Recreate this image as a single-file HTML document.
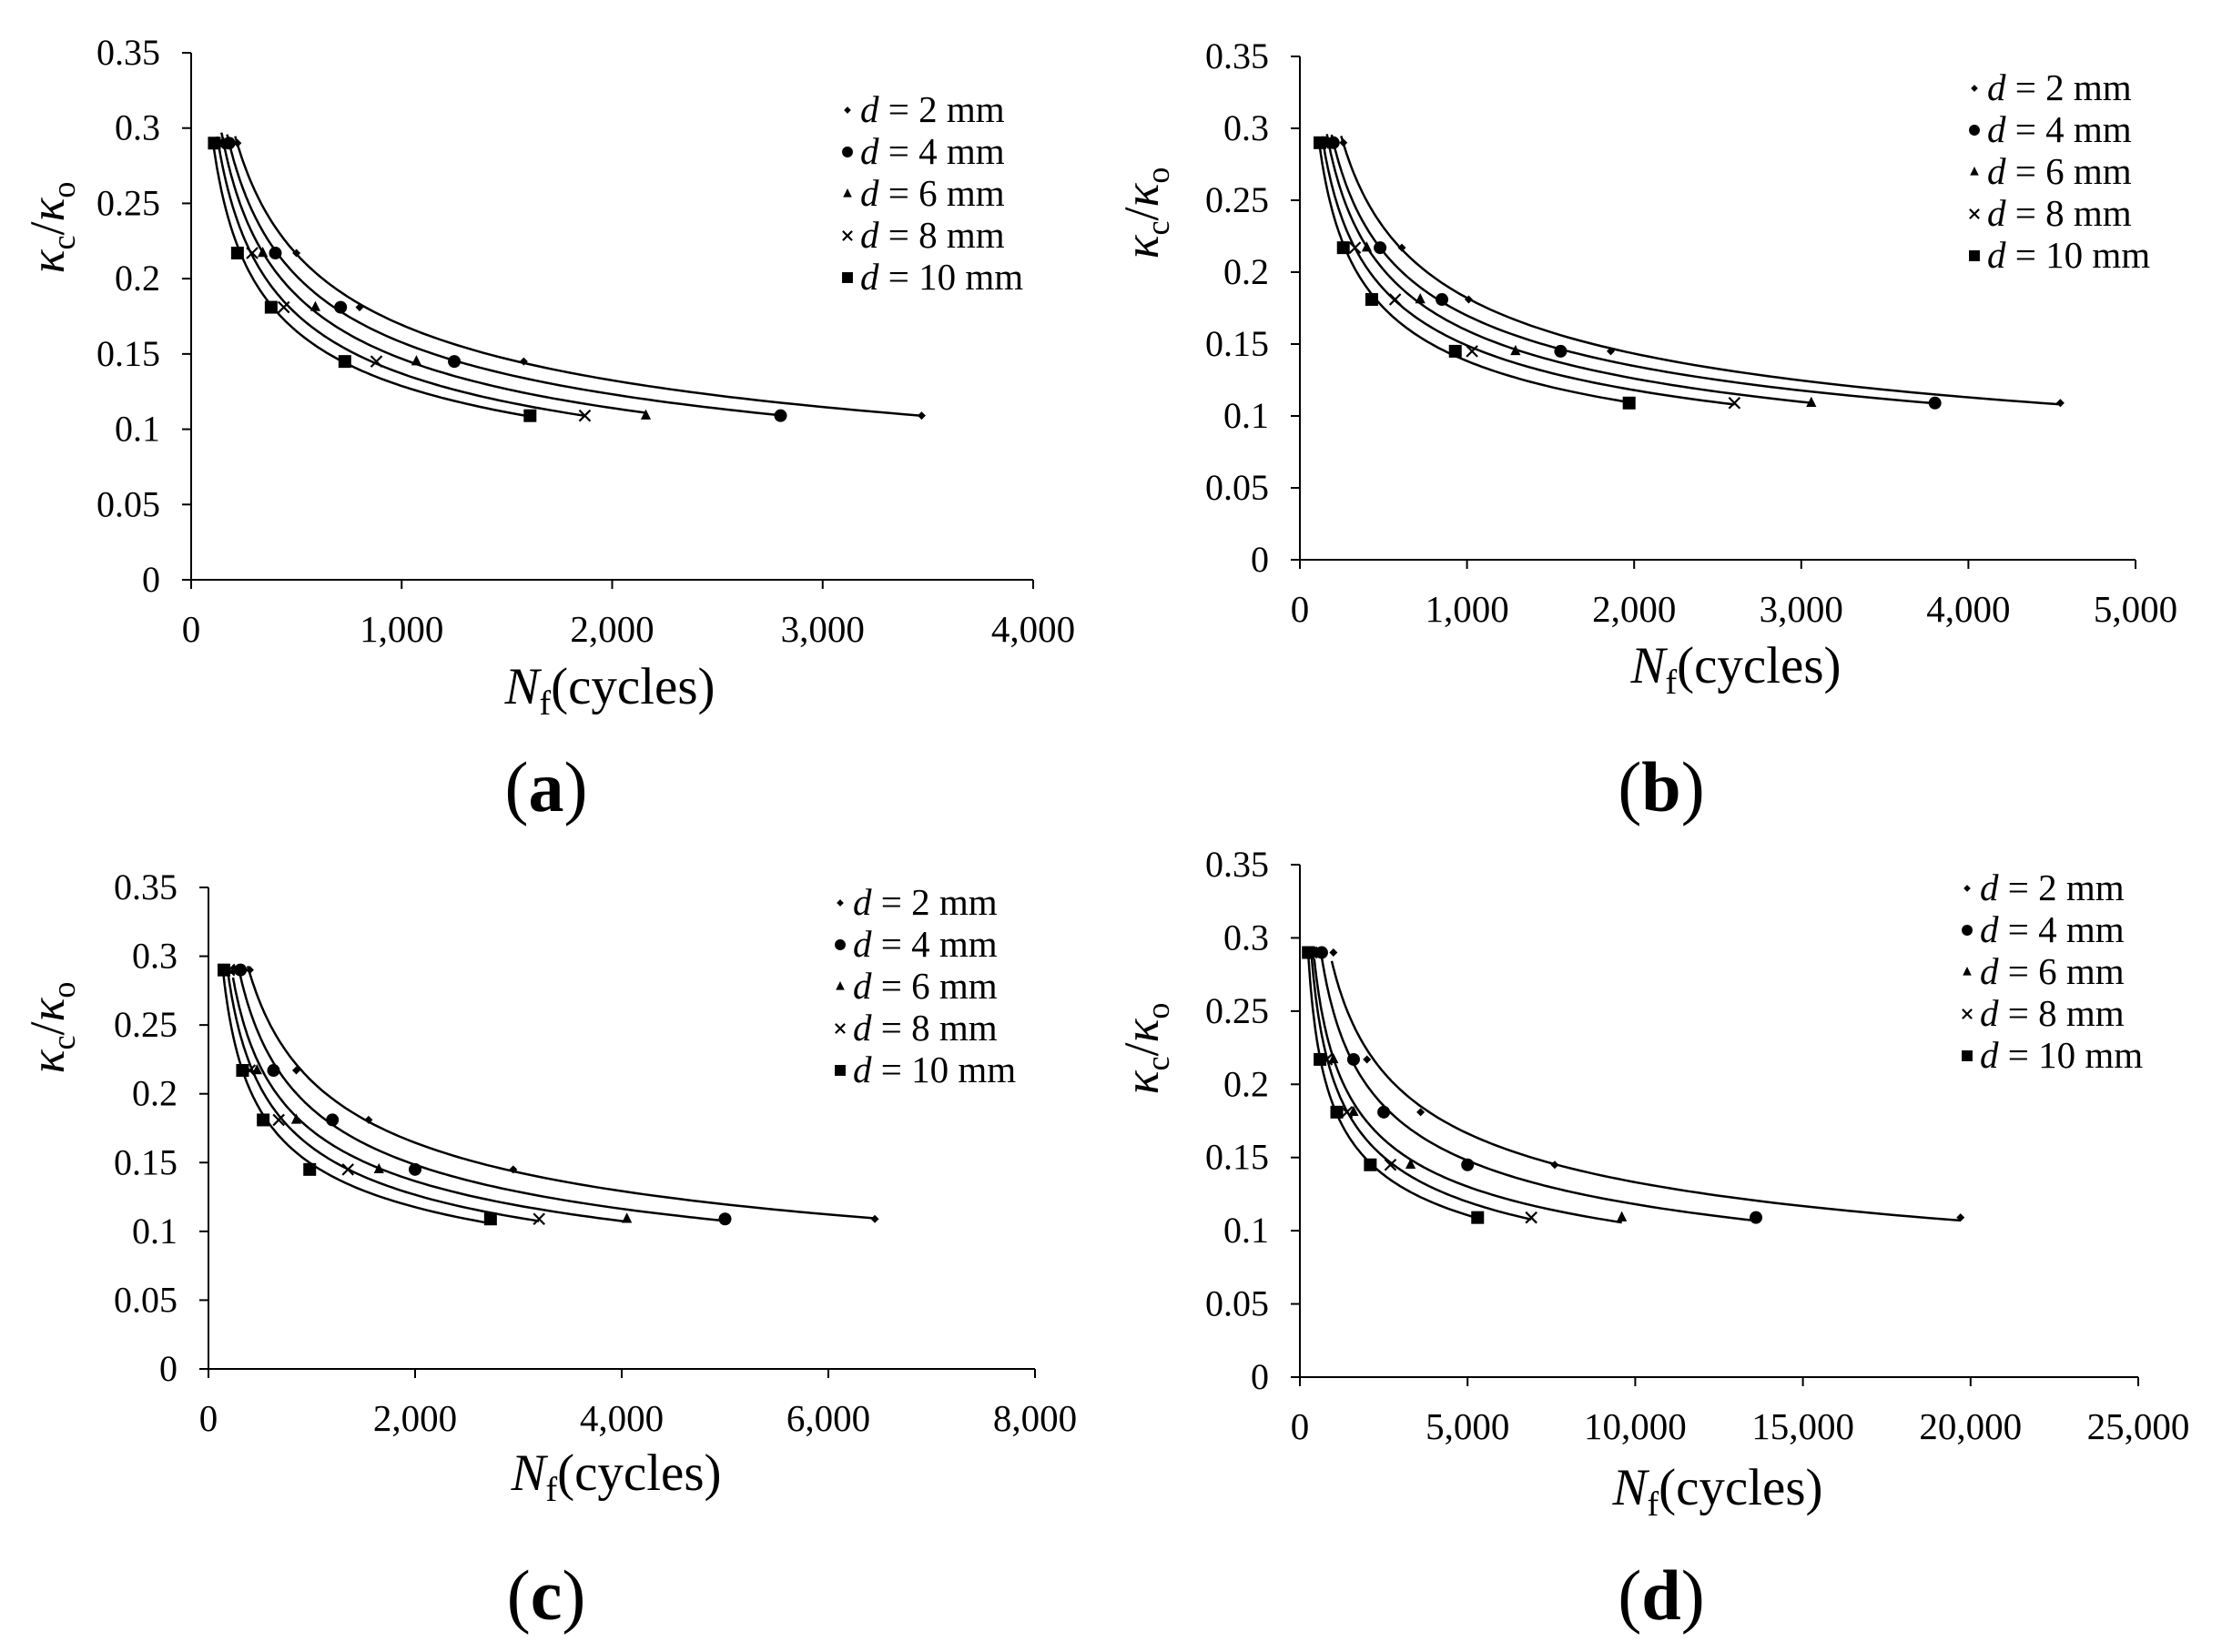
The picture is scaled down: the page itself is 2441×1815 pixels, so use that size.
<!DOCTYPE html>
<html><head><meta charset="utf-8"><style>
body{margin:0;background:#fff;}
svg{display:block;font-family:"Liberation Serif",serif;}
</style></head><body>
<svg id="fig" width="2441" height="1815" viewBox="0 0 2441 1815"></svg>
<script>
const seriesLabels = ["2 mm","4 mm","6 mm","8 mm","10 mm"];
const yLevels = [0.29, 0.217, 0.181, 0.145, 0.109];
const yTicks = [0,0.05,0.1,0.15,0.2,0.25,0.3,0.35];
const yTickLabels = ["0","0.05","0.1","0.15","0.2","0.25","0.3","0.35"];
const xTicksA = [0,1000,2000,3000,4000];
const xTicksB = [0,1000,2000,3000,4000,5000];
const xTicksC = [0,2000,4000,6000,8000];
const xTicksD = [0,5000,10000,15000,20000,25000];
const nfA = [[220,500,800,1580,3470],[180,400,710,1250,2800],[150,340,590,1070,2160],[130,290,440,880,1870],[110,220,380,730,1610]];
const nfB = [[260,610,1010,1860,4550],[200,480,850,1560,3800],[170,400,720,1290,3060],[140,330,570,1030,2600],[120,260,430,930,1970]];
const nfC = [[400,850,1550,2950,6450],[310,630,1200,2000,5000],[250,470,850,1650,4050],[200,400,680,1350,3200],[150,330,530,980,2730]];
const nfD = [[1000,2000,3600,7600,19700],[650,1600,2500,5000,13600],[450,1000,1600,3300,9600],[350,800,1400,2700,6900],[250,600,1100,2100,5300]];

const NS="http://www.w3.org/2000/svg";
const svg=document.getElementById('fig');
function mk(tag,attrs,parent){const e=document.createElementNS(NS,tag);for(const k in attrs)e.setAttribute(k,attrs[k]);(parent||svg).appendChild(e);return e;}

const panels=[
 {id:'a',x0:210,x1:1135,y0:637,y1:58,xt:xTicksA,data:nfA,leg:[931,121],ylab:[58,250],xlab:[670,755],pl:[600,864]},
 {id:'b',x0:1428,x1:2346,y0:615,y1:62,xt:xTicksB,data:nfB,leg:[2169,97],ylab:[1260,234],xlab:[1907,732],pl:[1825,864]},
 {id:'c',x0:229,x1:1137,y0:1504,y1:975,xt:xTicksC,data:nfC,leg:[923,992],ylab:[58,1129],xlab:[677,1619],pl:[600,1752]},
 {id:'d',x0:1428,x1:2349,y0:1513,y1:950,xt:xTicksD,data:nfD,leg:[2161,976],ylab:[1260,1152],xlab:[1887,1635],pl:[1825,1752]}
];
function marker(g,k,x,y,s){
  s=s||1;
  if(k===0){const r=4.5*s;mk('path',{d:`M${x} ${y-r}L${x+r} ${y}L${x} ${y+r}L${x-r} ${y}Z`,fill:'#000'},g);}
  else if(k===1){mk('circle',{cx:x,cy:y,r:7*s,fill:'#000'},g);}
  else if(k===2){const r=7*s;mk('path',{d:`M${x} ${y-r}L${x+r*0.8} ${y+r*0.6}L${x-r*0.8} ${y+r*0.6}Z`,fill:'#000'},g);}
  else if(k===3){const r=6*s;mk('path',{d:`M${x-r} ${y-r}L${x+r} ${y+r}M${x+r} ${y-r}L${x-r} ${y+r}`,stroke:'#000','stroke-width':2.2,fill:'none'},g);}
  else {const r=7*s;mk('rect',{x:x-r,y:y-r,width:2*r,height:2*r,fill:'#000'},g);}
}
function fmt(v){return v.toLocaleString('en-US');}
panels.forEach(p=>{
  const g=mk('g',{});
  
  
  const xmax=p.xt[p.xt.length-1];
  const sx=v=>p.x0+(v/xmax)*(p.x1-p.x0);
  const sy=v=>p.y0-(v/0.35)*(p.y0-p.y1);
  const ax=mk('path',{d:`M${p.x0} ${p.y1}L${p.x0} ${p.y0}L${p.x1} ${p.y0}`,stroke:'#000','stroke-width':2,fill:'none'},g);
  
  yTicks.forEach((t,i)=>{
    mk('line',{x1:p.x0-10,x2:p.x0,y1:sy(t),y2:sy(t),stroke:'#000','stroke-width':2},g);
    const tx=mk('text',{x:p.x0-34,y:sy(t)+13,'text-anchor':'end','font-size':40},g);
    tx.textContent=yTickLabels[i];
    
  });
  p.xt.forEach(t=>{
    mk('line',{x1:sx(t),x2:sx(t),y1:p.y0,y2:p.y0+10,stroke:'#000','stroke-width':2},g);
    const tx=mk('text',{x:sx(t),y:p.y0+68,'text-anchor':'middle','font-size':41},g);
    tx.textContent=fmt(t);
    
  });
  p.data.forEach((xs,k)=>{
    let n=xs.length,sl=0,sly=0,sll=0,slly=0;
    xs.forEach((x,i)=>{const lx=Math.log(x),ly=Math.log(yLevels[i]);sl+=lx;sly+=ly;sll+=lx*lx;slly+=lx*ly;});
    const b=(n*slly-sl*sly)/(n*sll-sl*sl),a=Math.exp((sly-b*sl)/n);
    const xa=xs[0]*0.95,xb=xs[n-1];let d='';
    for(let i=0;i<=120;i++){const x=xa*Math.pow(xb/xa,i/120);const y=Math.min(a*Math.pow(x,b),0.297);d+=(i?'L':'M')+sx(x).toFixed(1)+' '+sy(y).toFixed(1);}
    const c=mk('path',{d:d,stroke:'#000','stroke-width':2.5,fill:'none'},g);
    
    
    xs.forEach((x,i)=>marker(g,k,sx(x),sy(yLevels[i])));
  });
  seriesLabels.forEach((s,k)=>{
    const ly=p.leg[1]+k*46;
    marker(g,k,p.leg[0],ly,0.85);
    const t=mk('text',{x:p.leg[0]+14,y:ly+13,'font-size':41},g);
    t.innerHTML='<tspan font-style="italic">d</tspan> = '+s;
    
  });
  const yl=mk('text',{x:p.ylab[0],y:p.ylab[1]+12,'text-anchor':'middle','font-size':54,transform:`rotate(-90 ${p.ylab[0]} ${p.ylab[1]})`},g);
  yl.innerHTML='<tspan font-style="italic">κ</tspan><tspan font-size="36" dy="12">c</tspan><tspan dy="-12">/</tspan><tspan font-style="italic">κ</tspan><tspan font-size="36" dy="12">o</tspan>';
  
  const xl=mk('text',{x:p.xlab[0],y:p.xlab[1]+18,'text-anchor':'middle','font-size':57},g);
  xl.innerHTML='<tspan font-style="italic">N</tspan><tspan font-size="38" dy="12">f</tspan><tspan dy="-12">(cycles)</tspan>';
  
  const pl=mk('text',{x:p.pl[0],y:p.pl[1]+27,'text-anchor':'middle','font-size':78},g);
  pl.innerHTML='(<tspan font-weight="bold">'+p.id+'</tspan>)';
  
});
</script>
</body></html>
